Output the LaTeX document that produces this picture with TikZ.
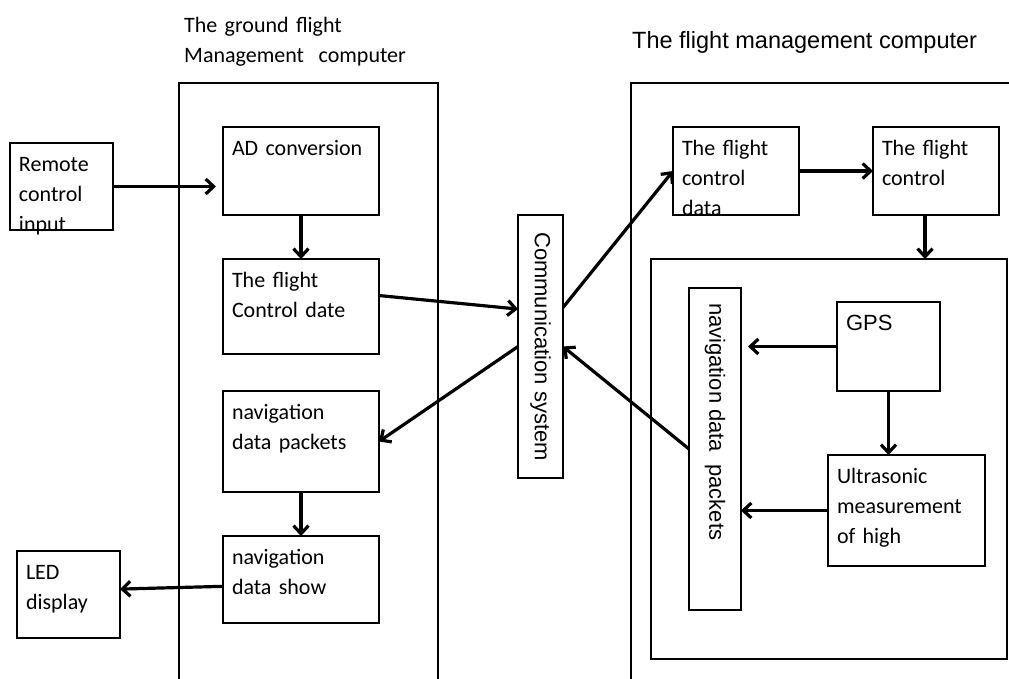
\documentclass[tikz,border=0pt]{standalone}
\usepackage{fontspec}
\setmainfont{Carlito}
\newfontfamily\arialfont{Liberation Sans}
\usepackage{graphicx}
\usepackage{tikz}
\usetikzlibrary{arrows.meta}

\newcommand\boxfont{\fontsize{22}{30}\selectfont}
\newcommand\armfont{\arialfont\fontsize{22}{30}\selectfont}

\begin{document}
\begin{tikzpicture}[x=1pt,y=-1pt,
  block/.style={draw,line width=2pt,anchor=north west,align=left,inner xsep=9pt,inner ysep=0pt,outer sep=0pt,text height=28pt,font=\boxfont},
  frame/.style={draw,line width=2pt,anchor=north west,inner sep=0pt,outer sep=0pt},
  column/.style={draw,line width=2pt,inner sep=0pt,outer sep=0pt,font=\armfont},
  arr/.style={-{Straight Barb[length=8pt,width=15pt]},line width=3.2pt}]

  \useasboundingbox (0,0) rectangle (1009,678);
  \clip (0,0) rectangle (1009,678);

  % Titles and outer frames
  \node[anchor=base west,align=left,text width=260pt,inner sep=0pt,font=\boxfont] (gtitle) at (184,32) {The ground flight\\Management~~computer};
  \node[anchor=base west,inner sep=0pt,font=\arialfont\fontsize{23.5}{28}\selectfont] (ftitle) at (632,48) {The flight management computer};
  \node[frame,minimum width=259pt,minimum height=700pt] (ground) at (179,83) {};
  \node[frame,minimum width=500pt,minimum height=700pt] (fmc) at (631,83) {};
  \node[frame,minimum width=356pt,minimum height=400pt] (inner) at (651,259) {};

  % Specification of blocks (position, size)
  \node[block,text width=85pt,text depth=59pt] (remote) at (10,143) {Remote\\control\\input};
  \node[block,text width=138pt,text depth=60pt] (ad) at (223,127) {AD conversion};
  \node[block,text width=138pt,text depth=67pt] (fcdate) at (223,259) {The flight\\Control date};
  \node[block,text width=138pt,text depth=73pt] (navpk) at (223,391) {navigation\\data packets};
  \node[block,text width=138pt,text depth=59pt] (navshow) at (223,536) {navigation\\data show};
  \node[block,text width=85pt,text depth=59pt] (led) at (17,551) {LED\\display};
  \node[block,text width=108pt,text depth=60pt] (fcdata) at (673,127) {The flight\\control\\data};
  \node[block,text width=108pt,text depth=60pt] (fctrl) at (873,127) {The flight\\control};
  \node[block,text width=85pt,text depth=61pt,font=\armfont] (gps) at (837,302) {GPS};
  \node[block,text width=139pt,text depth=83pt] (ultra) at (828,455) {Ultrasonic\\measurement\\of high};

  % Vertical columns
  \node[column,minimum width=45pt,minimum height=263pt] (comm) at (540.5,346.5) {\rotatebox{-90}{Communication system}};
  \node[column,anchor=north,minimum width=52pt,text height=15pt,text depth=307pt] (navcol) at (715,288) {\rotatebox{-90}{navigation data~~packets}};

  \begin{scope}[arr]
    \draw[shorten >=7pt] (remote.east) to (remote.east -| ad.west);
    \draw (ad.south) to (fcdate.north);
    \draw (fcdate.8) to (comm.121);
    \draw (comm.west) to (navpk.east);
    \draw (navpk.south) to (navshow.north);
    \draw (navshow.185) to (led.6);
    \draw (comm.60) to (fcdata.west);
    \draw (fcdata.east) to (fctrl.west);
    \draw (fctrl.256) to (fctrl.256 |- inner.north);
    \draw[shorten >=7pt] (gps.west) to (gps.west -| navcol.east);
    \draw (gps.south) to (gps.south |- ultra.north);
    \draw (ultra.west) to (ultra.west -| navcol.east);
    \draw (navcol.west) to (comm.east);
  \end{scope}

\end{tikzpicture}
\end{document}
